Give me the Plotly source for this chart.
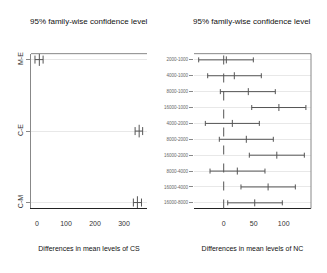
import plotly.graph_objects as go

# Left panel: Tukey HSD for CS
cs_labels = ["C-M", "C-E", "M-E"]          # bottom to top
cs_diff = [346, 352, 8]
cs_lwr = [332, 338, -7]
cs_upr = [360, 364, 21]

# Right panel: Tukey HSD for NC (listed top to bottom)
nc_labels = ["2000-1000", "4000-1000", "8000-1000", "16000-1000", "4000-2000",
             "8000-2000", "16000-2000", "8000-4000", "16000-4000", "16000-8000"]
nc_diff = [4.4, 17.7, 41, 92, 14.4, 37.7, 88.5, 22.7, 74, 51.7]
nc_lwr = [-41.7, -26.7, -5.6, 46.7, -30.6, -7.3, 42.7, -22.8, 28.8, 6.7]
nc_upr = [49.4, 62.7, 86, 137, 59.4, 82.7, 134.4, 68.8, 119.4, 97.7]

cs_ticks = [0, 100, 200, 300]
nc_ticks = [0, 50, 100]

FONT = "Liberation Sans Narrow, Liberation Sans, Arial, sans-serif"
LINE = "#555555"

# page body has an 8px margin; figure is sized to fit the remaining window
OFF = 8
W, H = 327 - OFF, 273 - OFF


def fx(px):
    return (px - OFF) / W


def fy(py):
    return 1 - (py - OFF) / H


fig = go.Figure()

cs_y = list(range(1, len(cs_labels) + 1))
fig.add_trace(go.Scatter(
    x=cs_diff, y=cs_y, mode="markers", xaxis="x", yaxis="y",
    marker=dict(symbol="line-ns", size=9, line=dict(width=1, color=LINE), color=LINE),
    error_x=dict(type="data", symmetric=False,
                 array=[u - d for u, d in zip(cs_upr, cs_diff)],
                 arrayminus=[d - l for d, l in zip(cs_diff, cs_lwr)],
                 color=LINE, thickness=1, width=4),
    showlegend=False, hoverinfo="skip"))

n = len(nc_labels)
nc_y = [n - i for i in range(n)]
fig.add_trace(go.Scatter(
    x=nc_diff, y=nc_y, mode="markers", xaxis="x2", yaxis="y2",
    marker=dict(symbol="line-ns", size=5, line=dict(width=1, color=LINE), color=LINE),
    error_x=dict(type="data", symmetric=False,
                 array=[u - d for u, d in zip(nc_upr, nc_diff)],
                 arrayminus=[d - l for d, l in zip(nc_diff, nc_lwr)],
                 color=LINE, thickness=1, width=2.5),
    showlegend=False, hoverinfo="skip"))

tickfont = dict(family=FONT, size=7, color="#333333")
ytickfont_small = dict(family=FONT, size=4.5, color="#666666")
titlefont = dict(family=FONT, size=7, color="#111111")

fig.update_layout(
    width=W, height=H, margin=dict(l=0, r=0, t=0, b=0),
    paper_bgcolor="white", plot_bgcolor="white",
    xaxis=dict(domain=[fx(31), fx(147)], range=[-20.7, 379], tickvals=cs_ticks,
               showgrid=False, zeroline=False, showline=True, linecolor="#222222",
               linewidth=1, ticks="", tickfont=tickfont, ticklabelstandoff=8,
               title=dict(text="Differences in mean levels of CS", standoff=20,
                          font=titlefont)),
    yaxis=dict(domain=[fy(208), fy(52)], range=[0.917, 3.083], tickvals=cs_y,
               ticktext=cs_labels, tickangle=-90, showgrid=True, gridcolor="#e8e8e8",
               zeroline=False, showline=True, linecolor="#888888", ticks="outside",
               ticklen=4, tickcolor="#888888", tickfont=tickfont),
    xaxis2=dict(domain=[fx(194), fx(311)], range=[-49.5, 145.5], tickvals=nc_ticks,
                showgrid=False, zeroline=False, showline=True, linecolor="#222222",
                linewidth=1, ticks="", tickfont=tickfont, anchor="y2",
                ticklabelstandoff=8,
                title=dict(text="Differences in mean levels of NC", standoff=20,
                           font=titlefont)),
    yaxis2=dict(domain=[fy(208), fy(52)], range=[0.644, 10.39], tickvals=nc_y,
                ticktext=nc_labels, showgrid=True, gridcolor="#e8e8e8",
                zeroline=False, showline=False, ticks="outside", ticklen=4,
                tickcolor="#888888", tickfont=ytickfont_small, anchor="x2"),
    shapes=[
        dict(type="line", xref="x domain", yref="y domain", x0=0, x1=1, y0=1, y1=1,
             line=dict(color="#888888", width=1)),
        dict(type="line", xref="x2 domain", yref="y2 domain", x0=0, x1=1, y0=1, y1=1,
             line=dict(color="#888888", width=1)),
        dict(type="line", xref="x2 domain", yref="y2 domain", x0=1, x1=1, y0=0, y1=1,
             line=dict(color="#888888", width=1)),
        dict(type="line", xref="x2", yref="y2 domain", x0=0, x1=0, y0=0, y1=1,
             line=dict(color="#555555", width=1, dash="dash")),
    ],
    annotations=[
        dict(text="95% family-wise confidence level", xref="paper", yref="paper",
             x=fx(89), y=fy(20), showarrow=False, xanchor="center", yanchor="middle",
             font=dict(family=FONT, size=8, color="#111111")),
        dict(text="95% family-wise confidence level", xref="paper", yref="paper",
             x=fx(252.5), y=fy(20), showarrow=False, xanchor="center", yanchor="middle",
             font=dict(family=FONT, size=8, color="#111111")),
    ],
)

fig.write_html("out.html")
